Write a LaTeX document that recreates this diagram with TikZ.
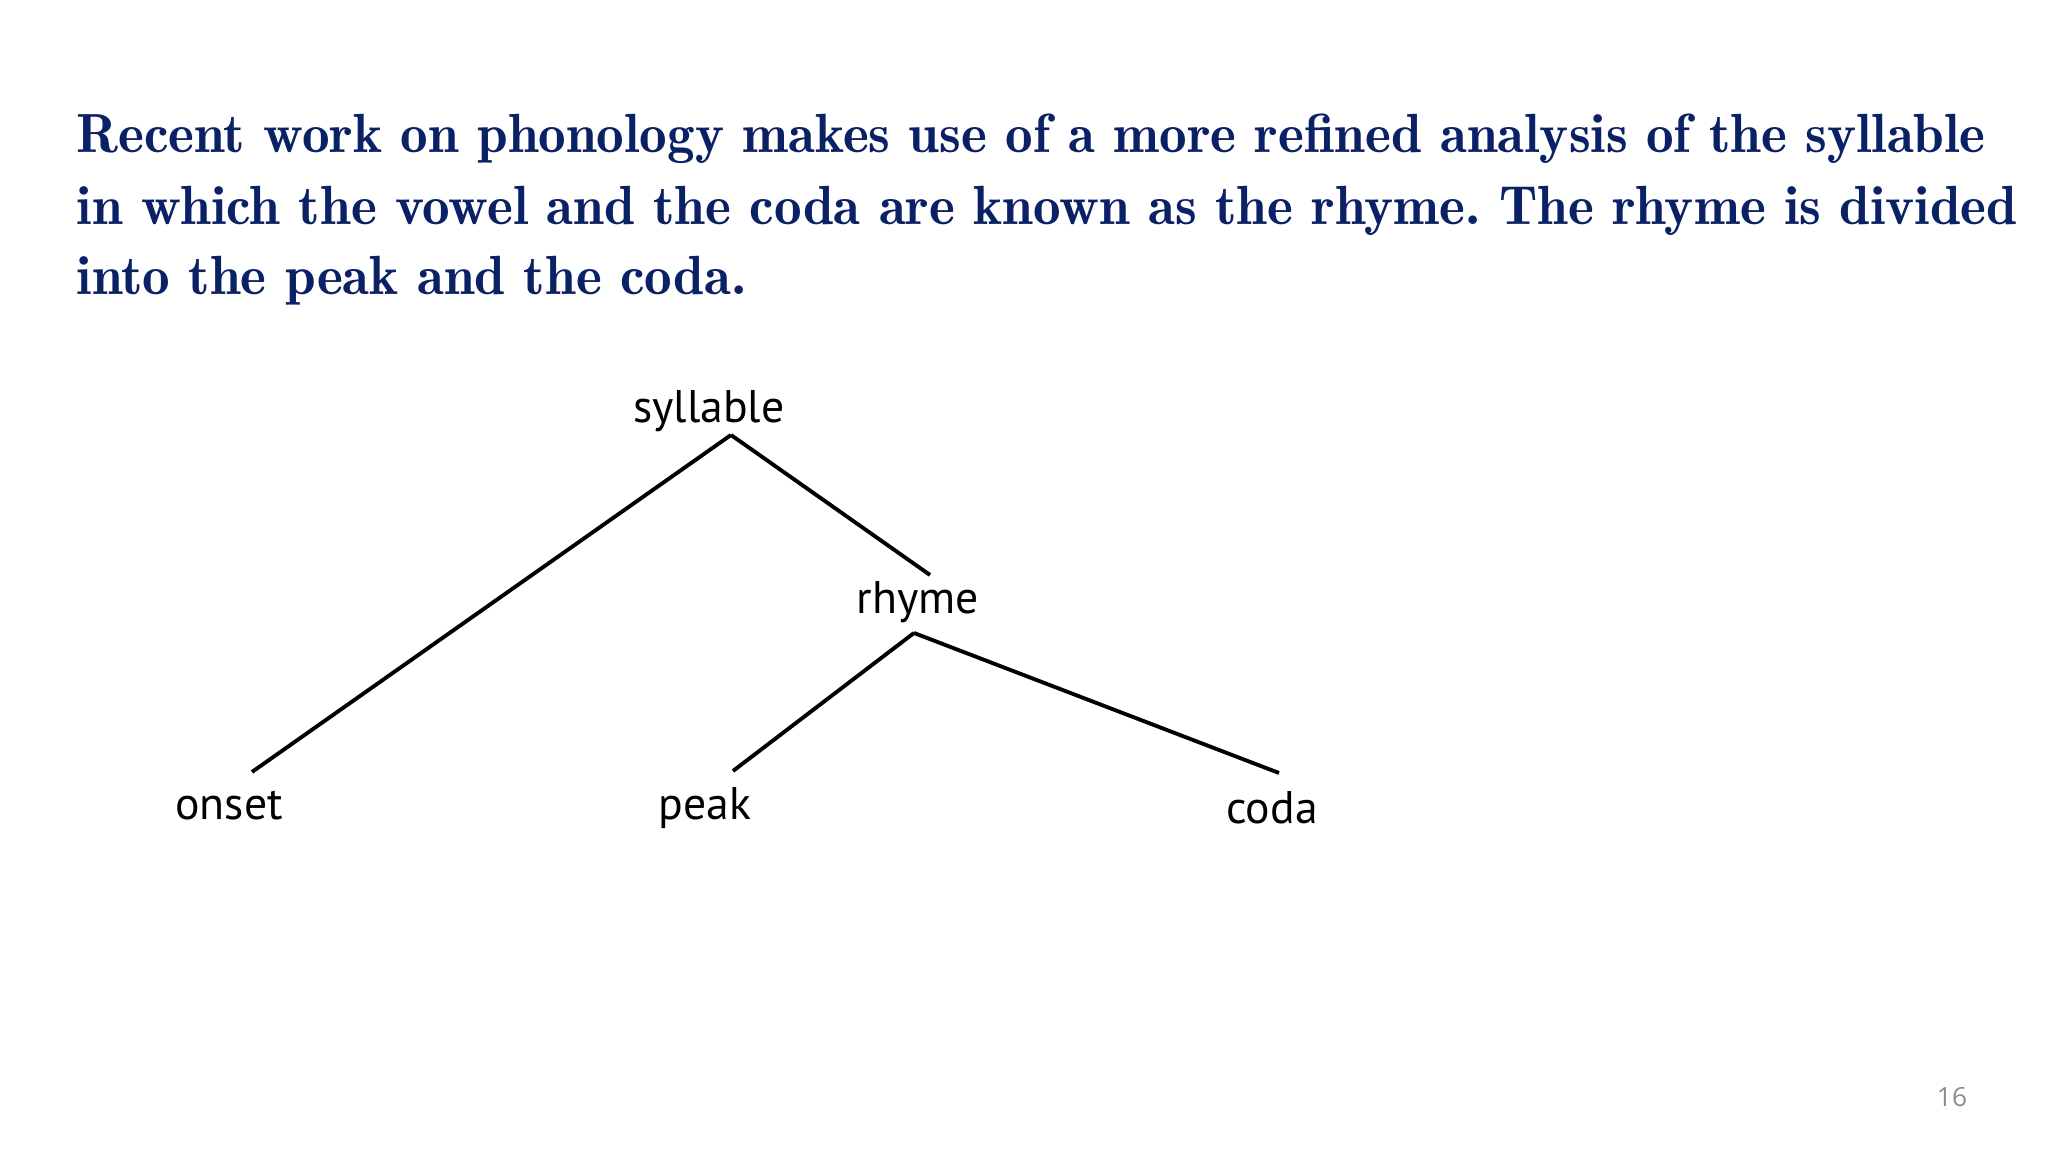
\documentclass[tikz,border=0pt]{standalone}
\usepackage{fontspec}
\usepackage{tikz}
\usetikzlibrary{calc}
\newfontfamily\treefont{PT Sans}
\newfontfamily\numfont{Open Sans}
\definecolor{titleblue}{HTML}{0B2165}
\definecolor{pagegray}{HTML}{8C8C8C}
\frenchspacing

\begin{document}
\begin{tikzpicture}
      \tikzstyle{every node}=[inner sep=0pt]
      \tikzstyle{titleline}=[anchor=base west,text=titleblue,
			      font=\fontsize{15.7}{19}\fontseries{b}\selectfont]
      \tikzstyle{word}=[font=\treefont\fontsize{13}{15}\selectfont]
      \useasboundingbox (0,0) rectangle (20.48,11.52);
      \node (line1) [titleline] at (0.76,9.99) {Recent work on phonology makes use of a more refined analysis of the syllable};
      \node (line2) [titleline] at (0.76,9.27) {in which the vowel and the coda are known as the rhyme. The rhyme is divided};
      \node (line3) [titleline] at (0.76,8.57) {into the peak and the coda.};
      \node (syllable) [word] at (7.09,7.41) {syllable};
      \node (rhyme) [word] at (9.18,5.50) {rhyme};
      \node (onset) [word] at (2.29,3.46) {onset};
      \node (peak) [word] at (7.05,3.44) {peak};
      \node (coda) [word] at (12.72,3.44) {coda};
      \draw[line width=1.1pt] ($(syllable)+(0.22,-0.24)$) -- ($(onset)+(0.23,0.34)$);
      \draw[line width=1.1pt] ($(syllable)+(0.22,-0.24)$) -- ($(rhyme)+(0.12,0.27)$);
      \draw[line width=1.1pt] ($(rhyme)+(-0.04,-0.31)$) -- ($(peak)+(0.28,0.37)$);
      \draw[line width=1.1pt] ($(rhyme)+(-0.04,-0.31)$) -- ($(coda)+(0.07,0.35)$);
      \node (pagenum) [text=pagegray,font=\numfont\fontsize{7.5}{9}\selectfont] at (19.52,0.55) {16};
  \end{tikzpicture}
\end{document}
